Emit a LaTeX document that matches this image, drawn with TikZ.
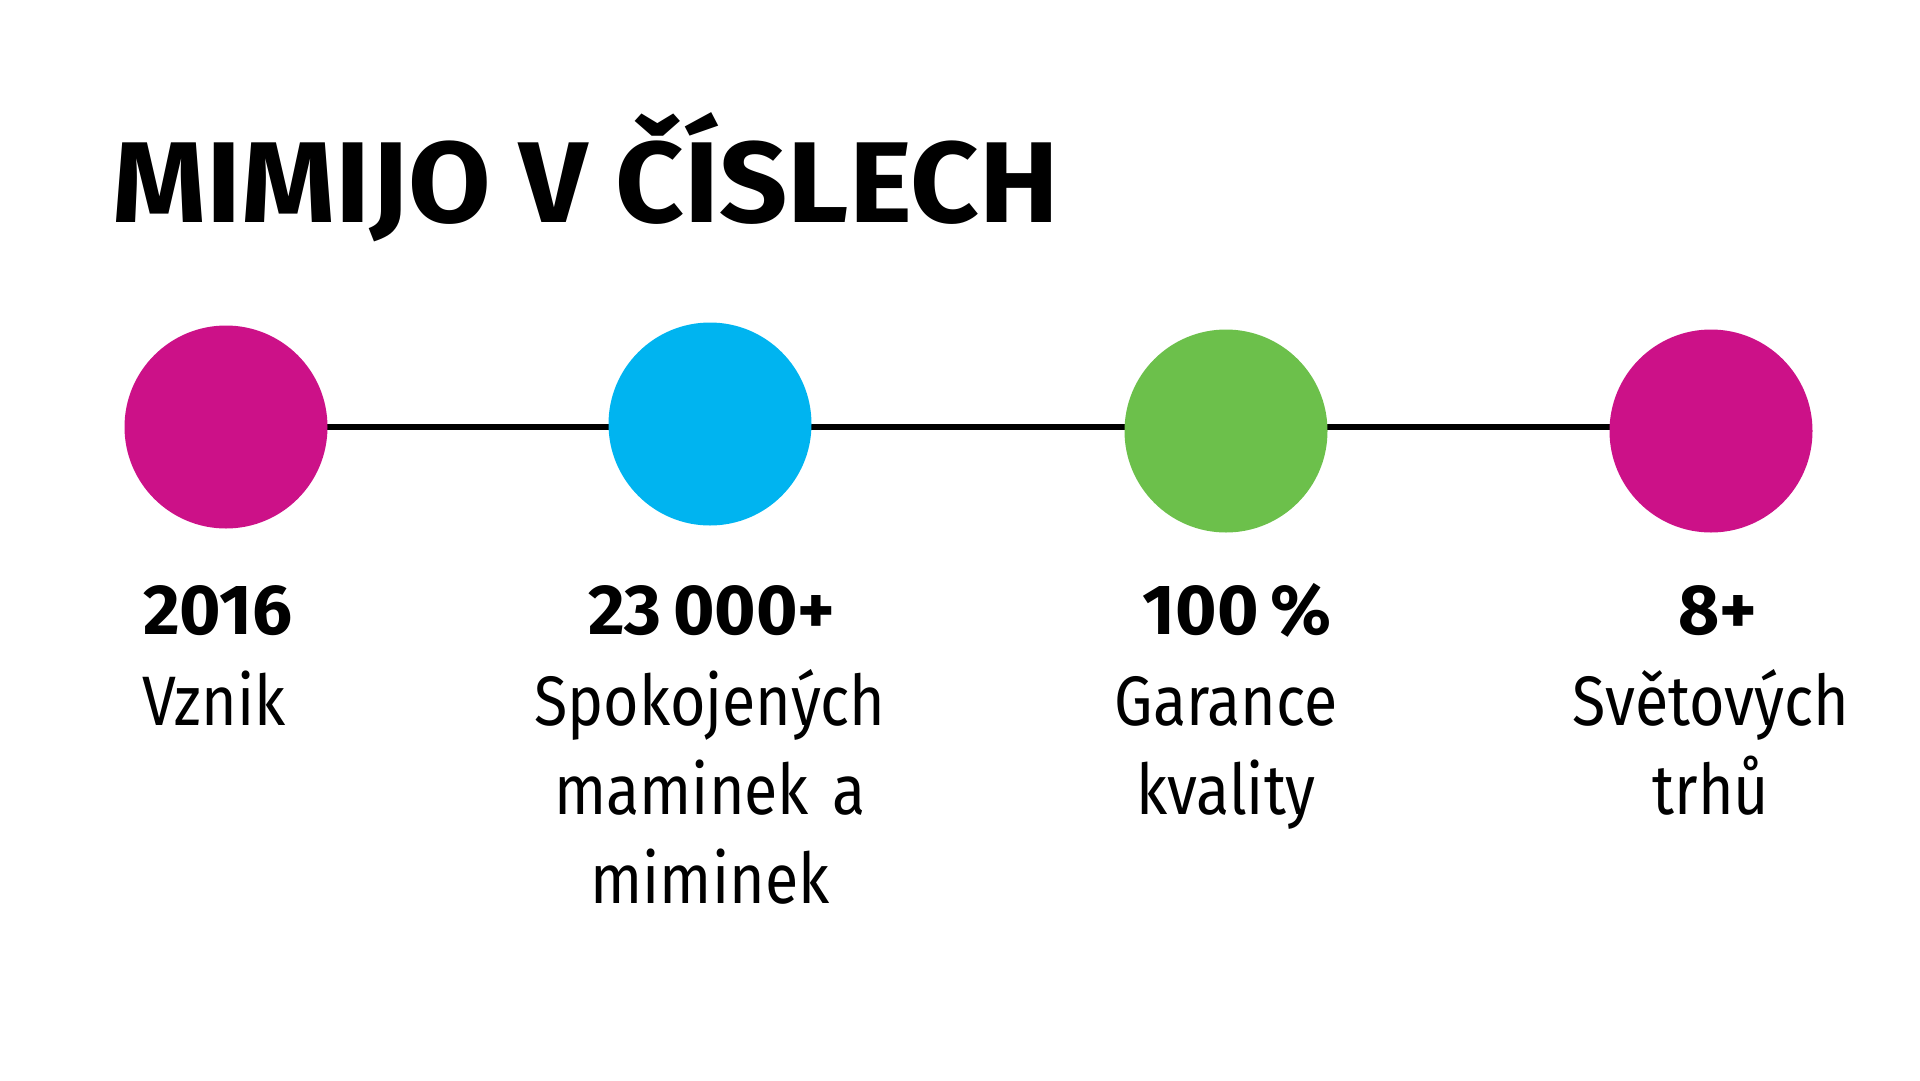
\documentclass[tikz,border=0pt]{standalone}
\usepackage{fontspec}
\setmainfont{Fira Sans}
\newfontfamily\popisfont{Fira Sans}[FakeStretch=0.87,WordSpace=0.75]
\newfontfamily\nadpisfont{Fira Sans}[FakeStretch=1.04]
\usetikzlibrary{backgrounds}

\definecolor{mimipink}{RGB}{204,17,136}
\definecolor{mimiblue}{RGB}{0,180,240}
\definecolor{mimigreen}{RGB}{108,192,75}

\tikzset{
  dot/.style={circle,minimum size=203pt,inner sep=0pt},
  cislo/.style={anchor=base,inner sep=0pt,font=\fontsize{71}{71}\selectfont\bfseries},
  popis/.style={anchor=base,inner sep=0pt,text width=420pt,align=center,
    font=\popisfont\fontsize{70}{89}\selectfont}
}

\begin{document}
\begin{tikzpicture}[x=1pt,y=-1pt]
      \useasboundingbox (0,0) rectangle (1920,1080);
      \node[anchor=base west,inner sep=0pt,font=\nadpisfont\fontsize{115}{115}\selectfont\bfseries]
        (nadpis) at (112,222) {MIMIJO V ČÍSLECH};

      \node[dot,fill=mimipink] (vznik) at (226,427) {};
      \node[dot,fill=mimiblue] (maminky) at (710,424) {};
      \node[dot,fill=mimigreen] (kvalita) at (1226,431) {};
      \node[dot,fill=mimipink] (trhy) at (1711,431) {};
      \begin{scope}[on background layer]
          \draw[line width=6pt] (vznik.center) -- (vznik.center -| trhy.center);
      \end{scope}

      \node[cislo,anchor=base west] (rok) at (143,634) {2016};
      \node[popis,text width=300pt,align=left,anchor=base west] (rokpopis) at (142,725) {Vznik};
      \node[cislo] (pocet) at (712,634) {23\,000+};
      \node[popis] (pocetpopis) at (710,725) {Spokojených\\maminek a\\miminek};
      \node[cislo] (procenta) at (1237,634) {100\,\%};
      \node[popis] (procentapopis) at (1226,725) {Garance\\kvality};
      \node[cislo] (zeme) at (1718,634) {8+};
      \node[popis] (zemepopis) at (1711,725) {Světových\\trhů};
    \end{tikzpicture}
\end{document}
